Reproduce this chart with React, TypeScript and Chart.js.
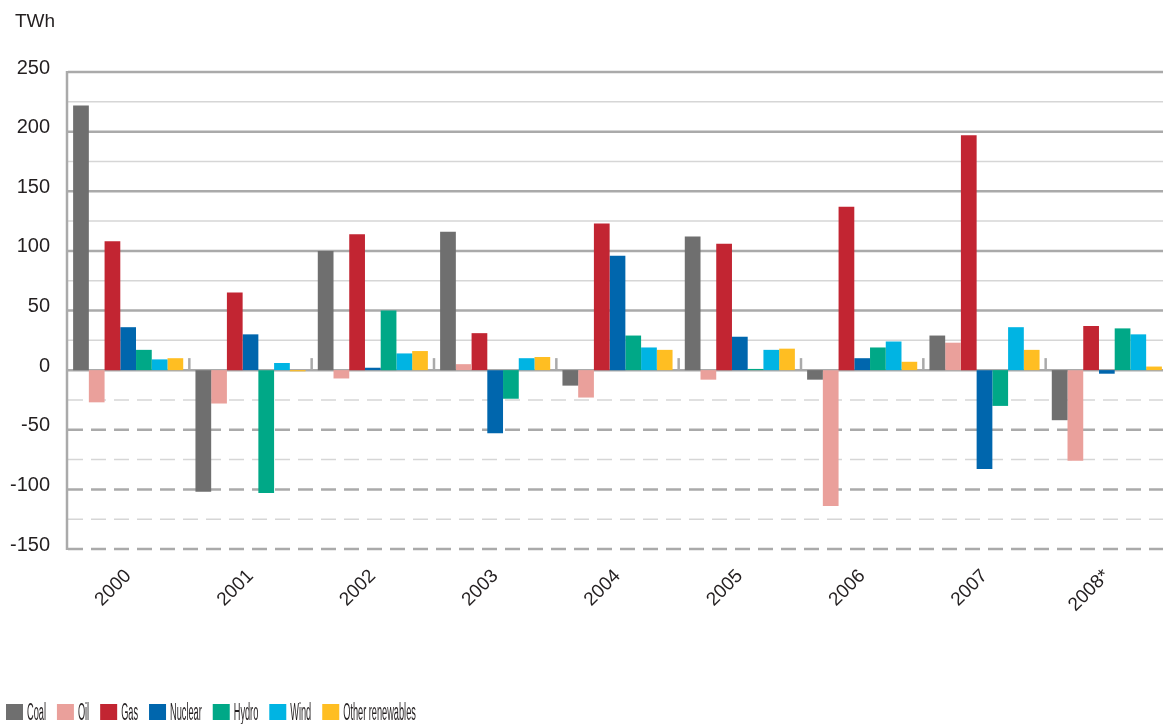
import React, { useEffect, useRef } from 'react';
import { Chart, registerables } from 'chart.js';

Chart.register(...registerables);

const categories = ['2000', '2001', '2002', '2003', '2004', '2005', '2006', '2007', '2008*'];
const coal = [222, -102, 100, 116, -13, 112, -8, 29, -42];
const oil = [-27, -28, -7, 5, -23, -8, -114, 23, -76];
const gas = [108, 65, 114, 31, 123, 106, 137, 197, 37];
const nuclear = [36, 30, 2, -53, 96, 28, 10, -83, -3];
const hydro = [17, -103, 50, -24, 29, 1, 19, -30, 35];
const wind = [9, 6, 14, 10, 19, 17, 24, 36, 30];
const otherRenewables = [10, -1, 16, 11, 17, 18, 7, 17, 3];

const seriesNames = ['Coal', 'Oil', 'Gas', 'Nuclear', 'Hydro', 'Wind', 'Other renewables'];
const seriesValues = [coal, oil, gas, nuclear, hydro, wind, otherRenewables];
const seriesColors = ['#6f6f6f', '#eaa09b', '#c22532', '#0066ad', '#00a887', '#00b4e3', '#ffbe22'];

const yMin = -150;
const yMax = 250;
const yMajorStep = 50;
const yMinorStep = 25;
const unitLabel = 'TWh';

const FONT = "'Liberation Sans', Arial, sans-serif";
const TEXT = '#231f20';

const gridPlugin = {
  id: 'customGrid',
  beforeDatasetsDraw(chart: any) {
    const { ctx, chartArea, scales } = chart;
    const y = scales.y;
    const x = scales.x;
    ctx.save();
    for (let v = yMin; v <= yMax; v += yMinorStep) {
      if (v === 0) continue;
      const py = y.getPixelForValue(v);
      const major = v % yMajorStep === 0;
      ctx.strokeStyle = major ? '#aaaaaa' : '#d6d6d6';
      ctx.lineWidth = major ? 2.5 : 1.5;
      ctx.setLineDash(v < 0 ? [15, 8] : []);
      ctx.beginPath();
      ctx.moveTo(chartArea.left + 1, py);
      ctx.lineTo(chartArea.right, py);
      ctx.stroke();
    }
    ctx.setLineDash([]);
    const y0 = y.getPixelForValue(0);
    ctx.strokeStyle = '#aaaaaa';
    ctx.lineWidth = 2.5;
    ctx.beginPath();
    ctx.moveTo(chartArea.left, y0);
    ctx.lineTo(chartArea.right, y0);
    ctx.stroke();
    for (let i = 1; i < categories.length; i++) {
      const px = x.getPixelForValue(i - 0.5);
      ctx.beginPath();
      ctx.moveTo(px, y0);
      ctx.lineTo(px, y0 - 12);
      ctx.stroke();
    }
    ctx.beginPath();
    ctx.moveTo(chartArea.left, chartArea.top - 1);
    ctx.lineTo(chartArea.left, chartArea.bottom + 1);
    ctx.stroke();
    ctx.restore();
  },
  afterDraw(chart: any) {
    const { ctx } = chart;
    ctx.save();
    ctx.fillStyle = TEXT;
    ctx.font = `19px ${FONT}`;
    ctx.textAlign = 'left';
    ctx.textBaseline = 'alphabetic';
    ctx.fillText(unitLabel, 15, 27);
    const sx = 0.4;
    ctx.font = `23px ${FONT}`;
    let bx = 6;
    seriesNames.forEach((name, i) => {
      ctx.fillStyle = seriesColors[i];
      ctx.fillRect(bx, 704, 17, 16);
      const tx = bx + 21;
      ctx.fillStyle = TEXT;
      ctx.save();
      ctx.translate(tx, 720);
      ctx.scale(sx, 1);
      ctx.fillText(name, 0, 0);
      ctx.restore();
      const w = ctx.measureText(name).width * sx;
      bx = tx + w + 11;
    });
    ctx.restore();
  },
};

export default function App() {
  const ref = useRef<HTMLCanvasElement>(null);
  useEffect(() => {
    if (!ref.current) return;
    const chart = new Chart(ref.current, {
      type: 'bar',
      data: {
        labels: categories,
        datasets: seriesNames.map((name, i) => ({
          label: name,
          data: seriesValues[i],
          backgroundColor: seriesColors[i],
          borderWidth: 0,
          categoryPercentage: 0.9,
          barPercentage: 1,
        })),
      },
      options: {
        responsive: false,
        animation: false,
        layout: { padding: { top: 72, left: 0, right: 0, bottom: 0 } },
        plugins: {
          legend: { display: false },
          tooltip: { enabled: false },
          title: { display: false },
        },
        scales: {
          x: {
            grid: { display: false, drawTicks: false },
            border: { display: false },
            ticks: {
              color: TEXT,
              font: { family: FONT, size: 19 },
              minRotation: 45,
              maxRotation: 45,
              padding: 16,
              autoSkip: false,
            },
            afterFit: (s: any) => {
              s.height = 175;
              s.paddingLeft = 0;
              s.paddingRight = 0;
            },
          },
          y: {
            min: yMin,
            max: yMax,
            grid: { display: false, drawTicks: false },
            border: { display: false },
            ticks: {
              stepSize: yMajorStep,
              color: TEXT,
              font: { family: FONT, size: 20 },
              padding: 17,
              labelOffset: -4,
            },
            afterFit: (s: any) => {
              s.width = 67;
              s.paddingTop = 0;
              s.paddingBottom = 0;
            },
          },
        },
      },
      plugins: [gridPlugin],
    });
    return () => chart.destroy();
  }, []);
  return (
    <div style={{ position: 'absolute', left: 0, top: 0, width: 1163, height: 724, overflow: 'hidden', background: '#fff' }}>
      <canvas ref={ref} width={1168} height={724} style={{ display: 'block' }} />
    </div>
  );
}
